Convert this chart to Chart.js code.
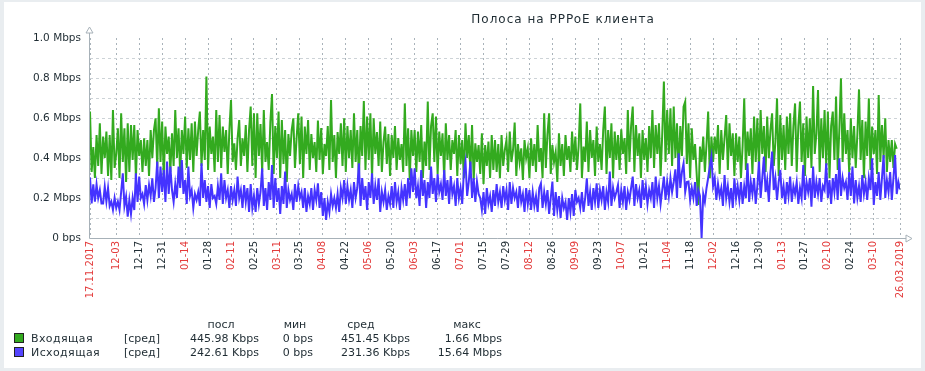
<!DOCTYPE html>
<html>
<head>
<meta charset="utf-8">
<script src="https://cdn.jsdelivr.net/npm/chart.js@4.4.1/dist/chart.umd.min.js"></script>
<style>
  html, body { margin: 0; padding: 0; }
  body { width: 925px; height: 371px; background: #e9edf0; position: relative; overflow: hidden;
         font-family: 'DejaVu Sans', sans-serif; color: #1f2c33; }
  #panel { position: absolute; left: 4px; top: 2px; width: 917px; height: 366px; background: #fff; }
  #c { position: absolute; left: 0; top: 0; }
  .t { position: absolute; white-space: nowrap; font-size: 11px; line-height: 13px; }
  .r { text-align: right; }
  .c { text-align: center; }
  .sq { position: absolute; width: 8px; height: 8px; border: 1px solid #222; }
  #title { position: absolute; top: 12px; left: 363px; width: 400px; text-align: center;
           font-size: 12px; letter-spacing: 1px; line-height: 15px; }
</style>
</head>
<body>
<div id="panel"></div>
<canvas id="c" width="925" height="371"></canvas>
<div id="title">Полоса на PPPoE клиента</div>
<div id="legend"></div>
<script>
// ---- data (Kbps, one value per day starting 17.11.2017) ----
const seriesNames = ['Входящая', 'Исходящая'];
const inbound = [
632,330,455,300,515,360,573,320,507,400,
532,310,515,290,640,350,420,548,300,623,
380,548,280,573,330,565,390,565,300,540,
410,490,330,498,360,490,310,540,400,540,
598,350,648,380,582,300,557,420,507,330,
523,360,640,400,548,320,540,420,607,350,
548,390,573,330,582,410,540,632,360,540,
390,807,340,557,420,507,330,640,380,615,
350,557,430,540,320,540,690,380,473,340,
498,590,360,498,410,565,330,540,
657,360,623,300,623,410,570,330,640,380,
480,340,580,720,320,560,400,632,300,590,
370,540,280,520,410,540,598,350,500,623,
370,607,300,557,420,590,340,520,400,480,
330,587,390,550,320,470,410,560,340,690,
380,515,300,530,420,573,360,598,330,560,
400,540,350,623,380,540,300,560,410,685,
340,607,390,623,300,598,420,530,360,582,
330,480,557,370,520,310,515,400,560,340,
500,390,470,330,673,360,548,290,540,410,
540,330,532,380,565,300,482,360,682,340,
560,623,380,607,320,532,410,523,300,573,
390,515,340,490,420,540,310,515,370,490,
300,573,400,515,330,565,290,473,380,465,
320,523,270,465,360,482,300,515,340,490,
330,470,300,515,360,440,490,330,532,380,
440,577,310,470,380,448,290,490,400,448,
300,498,360,470,330,565,380,450,300,623,
350,520,623,320,465,380,430,280,523,360,
470,310,515,390,460,330,532,380,
507,340,460,673,300,457,380,582,330,540,
400,490,310,557,380,470,340,540,657,320,
540,400,573,300,532,390,515,340,543,420,
500,320,640,380,560,657,330,565,410,523,
300,540,390,500,330,560,400,640,350,565,
420,573,310,520,782,380,640,420,648,360,
657,400,573,330,560,410,657,682,370,573,
300,548,390,470,320,165,457,380,507,330,
470,632,300,507,380,507,420,565,320,540,
390,500,615,340,573,410,523,310,523,
380,507,300,457,698,340,532,410,548,320,
607,380,598,350,640,420,560,330,607,400,
540,623,360,480,698,310,615,390,565,340,
607,420,623,360,560,673,330,560,682,380,
573,310,607,400,598,350,760,420,520,740,
330,598,400,640,360,632,300,560,632,390,
707,340,540,798,380,623,420,540,330,598,
400,560,350,520,743,390,590,300,582,410,
698,340,557,420,540,320,715,380,565,400,
598,330,490,380,490,350,470,446
];
const outbound = [
303,173,268,182,268,200,240,173,173,257,
182,250,160,182,140,200,150,182,140,230,
323,160,207,107,190,120,200,140,323,180,
307,200,220,170,265,190,265,210,298,180,
250,382,200,357,230,340,180,382,220,357,
240,180,270,200,357,250,390,220,290,170,
357,210,240,150,220,190,230,160,373,200,
290,180,260,150,270,200,210,170,260,190,
323,170,290,200,240,150,260,190,240,160,
307,200,240,150,265,180,250,130,
270,150,210,130,250,170,230,348,160,250,
140,280,190,365,150,300,180,250,120,260,
170,332,150,240,190,220,140,270,180,260,
200,230,150,250,130,210,170,250,140,240,
190,273,150,230,110,200,90,180,130,220,
160,200,150,220,130,250,200,290,170,260,
190,240,150,280,200,250,373,160,300,190,
260,140,280,200,323,170,260,190,298,130,
230,180,240,140,210,170,260,150,280,180,
230,140,250,190,270,160,300,200,348,230,
348,200,260,160,340,210,290,150,280,200,
357,220,300,180,320,230,270,190,340,210,
290,170,310,220,260,160,300,200,250,170,
330,382,210,280,382,200,300,180,282,220,
200,140,230,120,250,170,210,130,240,160,
270,180,230,150,260,190,240,140,280,170,
250,200,230,150,260,180,220,130,250,170,
240,140,230,160,210,130,250,273,150,230,
170,240,120,200,282,110,230,140,210,100,
200,150,180,90,200,130,220,110,240,180,
200,150,230,130,200,298,160,230,140,250,
180,273,150,240,190,260,140,230,180,332,
160,250,200,230,265,150,240,180,260,140,
230,190,250,307,160,270,200,240,150,290,
190,260,170,240,200,280,150,307,200,260,
170,240,307,190,280,210,300,230,280,343,
200,423,250,330,373,230,280,282,190,250,
200,280,160,240,210,0,220,180,250,300,
357,407,260,300,190,270,210,250,160,315,
200,260,180,250,150,298,200,260,190,
280,170,260,200,373,180,280,220,300,170,
260,382,200,300,407,230,290,180,330,432,
240,300,190,280,340,200,260,170,280,210,
307,180,260,220,280,170,250,200,365,190,
280,230,300,157,357,200,280,220,300,180,
260,240,373,200,290,170,300,230,320,190,
398,210,300,250,280,190,330,210,357,173,
290,200,260,180,315,220,280,190,300,240,
398,165,280,210,330,190,300,415,200,290,
230,330,190,300,415,220,280,243
];
const tickDays = [0,16,30,44,58,72,86,100,114,128,142,156,170,184,198,212,226,240,254,268,282,296,310,324,338,352,366,380,394,408,422,436,450,464,478,494];
const tickLabels = ['17.11.2017','12-03','12-17','12-31','01-14','01-28','02-11','02-25','03-11','03-25','04-08','04-22','05-06','05-20','06-03','06-17','07-01','07-15','07-29','08-12','08-26','09-09','09-23','10-07','10-21','11-04','11-18','12-02','12-16','12-30','01-13','01-27','02-10','02-24','03-10','26.03.2019'];
const yTickLabels = ['0 bps','0.2 Mbps','0.4 Mbps','0.6 Mbps','0.8 Mbps','1.0 Mbps'];
const legendHeader = ['посл','мин','сред','макс'];
const legendRows = [
  ['445.98 Kbps','0 bps','451.45 Kbps','1.66 Mbps'],
  ['242.61 Kbps','0 bps','231.36 Kbps','15.64 Mbps']
];

const GREEN = '#33aa1f', BLUE = '#4433ff';
const TEXT = '#1f2c33', RED = '#e33b3b';

function monthOf(l) { return l.length > 5 ? l.slice(3,5) : l.slice(0,2); }
function isRed(i) {
  return i === 0 || i === tickLabels.length - 1 || monthOf(tickLabels[i]) !== monthOf(tickLabels[i-1]);
}

const axisPlugin = {
  id: 'axes',
  afterDatasetsDraw(chart) {
    const {ctx, chartArea: a} = chart;
    ctx.save();
    ctx.strokeStyle = '#a7b1b8';
    ctx.fillStyle = '#fff';
    ctx.lineWidth = 1;
    const x0 = a.left - 0.5, y0 = a.bottom + 0.5;
    ctx.beginPath();
    ctx.moveTo(x0, y0); ctx.lineTo(x0, a.top - 5);
    ctx.moveTo(x0, y0); ctx.lineTo(a.right + 6, y0);
    ctx.stroke();
    ctx.beginPath();
    ctx.moveTo(x0 - 3.5, a.top - 5); ctx.lineTo(x0 + 3.5, a.top - 5); ctx.lineTo(x0, a.top - 11); ctx.closePath();
    ctx.fill(); ctx.stroke();
    ctx.beginPath();
    ctx.moveTo(a.right + 6, y0 - 3.5); ctx.lineTo(a.right + 6, y0 + 3.5); ctx.lineTo(a.right + 12, y0); ctx.closePath();
    ctx.fill(); ctx.stroke();
    ctx.restore();
  }
};

new Chart(document.getElementById('c'), {
  type: 'line',
  data: {
    datasets: [
      { label: seriesNames[0], data: inbound.map((v, i) => ({x: i, y: v})), borderColor: GREEN,
        borderWidth: 2, pointRadius: 0, tension: 0, fill: false, order: 2 },
      { label: seriesNames[1], data: outbound.map((v, i) => ({x: i, y: v})), borderColor: BLUE,
        borderWidth: 2, pointRadius: 0, tension: 0, fill: false, order: 1 }
    ]
  },
  options: {
    responsive: false,
    animation: false,
    layout: { padding: { left: 0, top: 38, right: 25, bottom: 0 } },
    plugins: { legend: { display: false }, tooltip: { enabled: false }, title: { display: false } },
    scales: {
      x: {
        type: 'linear', min: 0, max: tickDays[tickDays.length - 1],
        afterBuildTicks(s) { s.ticks = tickDays.map(v => ({value: v})); },
        afterFit(s) { s.height = 371 - 238; },
        grid: { color: '#a9b3ba', drawTicks: false, lineWidth: 1 },
        border: { display: false, dash: [2, 3] },
        ticks: {
          autoSkip: false, maxRotation: 90, minRotation: 90, padding: 3,
          font: { family: 'DejaVu Sans', size: 10 },
          color: (c) => isRed(c.index) ? RED : TEXT,
          callback: (v, i) => tickLabels[i]
        }
      },
      y: {
        min: 0, max: 1000,
        afterBuildTicks(s) { const t = []; for (let v = 0; v <= 1000; v += 100) t.push({value: v}); s.ticks = t; },
        afterFit(s) { s.width = 90; },
        grid: { color: (c) => (c.tick && (c.tick.value === 0 || c.tick.value === 1000)) ? 'rgba(0,0,0,0)' : '#cdd3d7', drawTicks: false },
        border: { display: false, dash: [3, 3] },
        ticks: {
          padding: 9, autoSkip: false,
          font: { family: 'DejaVu Sans', size: 10.5 },
          color: TEXT,
          callback: (v) => (v % 200 === 0) ? yTickLabels[v / 200] : ''
        }
      }
    }
  },
  plugins: [axisPlugin]
});

// ---- legend (HTML text) ----
(function () {
  const lg = document.getElementById('legend');
  const add = (txt, cls, style) => {
    const d = document.createElement('div');
    d.className = 't ' + (cls || '');
    d.textContent = txt;
    Object.assign(d.style, style);
    lg.appendChild(d);
  };
  const headCenters = [221, 295, 361, 467];
  legendHeader.forEach((h, i) => add(h, 'c', { left: (headCenters[i] - 40) + 'px', width: '80px', top: '318px' }));
  const rowY = [332, 346];
  const colors = [GREEN, '#5544ff'];
  const rights = [259, 313, 410, 502];
  legendRows.forEach((row, r) => {
    const sq = document.createElement('div');
    sq.className = 'sq';
    sq.style.left = '14px'; sq.style.top = (rowY[r] + 1) + 'px'; sq.style.background = colors[r];
    lg.appendChild(sq);
    add(seriesNames[r], '', { left: '31px', top: rowY[r] + 'px', letterSpacing: '0.4px' });
    add('[сред]', '', { left: '124px', top: rowY[r] + 'px' });
    row.forEach((v, i) => add(v, 'r', { left: (rights[i] - 120) + 'px', width: '120px', top: rowY[r] + 'px' }));
  });
})();
</script>
</body>
</html>
